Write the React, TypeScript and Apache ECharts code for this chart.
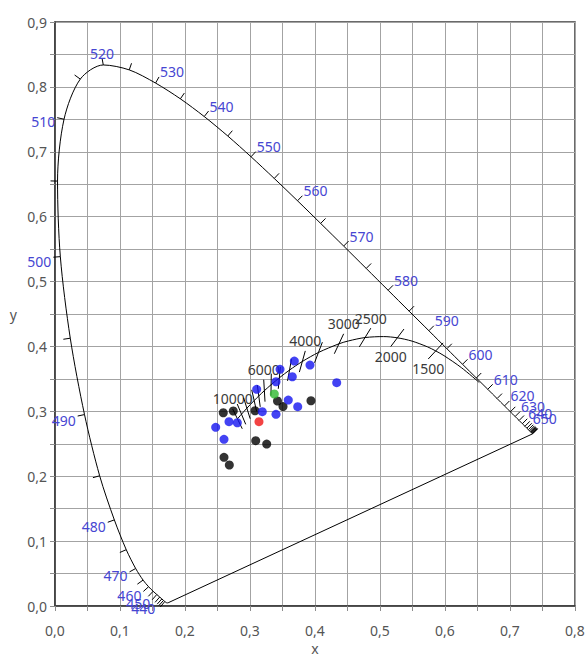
import React, { useEffect, useRef } from "react";
import * as echarts from "echarts";

// CIE 1931 2° spectral locus, 5 nm steps
const wavelengths = [
  380, 385, 390, 395, 400, 405, 410, 415, 420, 425, 430, 435, 440, 445, 450, 455,
  460, 465, 470, 475, 480, 485, 490, 495, 500, 505, 510, 515, 520, 525, 530, 535,
  540, 545, 550, 555, 560, 565, 570, 575, 580, 585, 590, 595, 600, 605, 610, 615,
  620, 625, 630, 635, 640, 645, 650, 655, 660, 665, 670, 675, 680, 685, 690, 695, 700,
];
const locusX = [
  0.1741, 0.174, 0.1738, 0.1736, 0.1733, 0.173, 0.1726, 0.1721, 0.1714, 0.1703, 0.1689,
  0.1669, 0.1644, 0.1611, 0.1566, 0.151, 0.144, 0.1355, 0.1241, 0.1096, 0.0913, 0.0687,
  0.0454, 0.0235, 0.0082, 0.0039, 0.0139, 0.0389, 0.0743, 0.1142, 0.1547, 0.1929, 0.2296,
  0.2658, 0.3016, 0.3373, 0.3731, 0.4087, 0.4441, 0.4788, 0.5125, 0.5448, 0.5752, 0.6029,
  0.627, 0.6482, 0.6658, 0.6801, 0.6915, 0.7006, 0.7079, 0.714, 0.719, 0.723, 0.726,
  0.7283, 0.73, 0.7311, 0.732, 0.7327, 0.7334, 0.734, 0.7344, 0.7346, 0.7347,
];
const locusY = [
  0.005, 0.005, 0.0049, 0.0049, 0.0048, 0.0048, 0.0048, 0.0048, 0.0051, 0.0058, 0.0069,
  0.0086, 0.0109, 0.0138, 0.0177, 0.0227, 0.0297, 0.0399, 0.0578, 0.0868, 0.1327, 0.2007,
  0.295, 0.4127, 0.5384, 0.6548, 0.7502, 0.812, 0.8338, 0.8262, 0.8059, 0.7816, 0.7543,
  0.7243, 0.6923, 0.6589, 0.6245, 0.5896, 0.5547, 0.5202, 0.4866, 0.4544, 0.4242, 0.3965,
  0.3725, 0.3514, 0.334, 0.3197, 0.3083, 0.2993, 0.292, 0.2859, 0.2809, 0.277, 0.274,
  0.2717, 0.27, 0.2689, 0.268, 0.2673, 0.2666, 0.266, 0.2656, 0.2654, 0.2653,
];
const tickFromNm = 430;
const labelFromNm = 440;
const labelToNm = 650;

// Planckian locus
const cctKelvin = [
  10000, 9000, 8000, 7000, 6500, 6000, 5500, 5000, 4500, 4000, 3500, 3000, 2800, 2500,
  2200, 2000, 1800, 1600, 1500, 1400, 1200, 1000,
];
const planckX = [
  0.2807, 0.2869, 0.2952, 0.3064, 0.3135, 0.3221, 0.3325, 0.3451, 0.3608, 0.3805, 0.4053,
  0.4369, 0.4519, 0.477, 0.5056, 0.5267, 0.5493, 0.5732, 0.5857, 0.5985, 0.6251, 0.6528,
];
const planckY = [
  0.2884, 0.2956, 0.3048, 0.3166, 0.3237, 0.3318, 0.3411, 0.3516, 0.3636, 0.3768, 0.3907,
  0.4041, 0.4086, 0.4137, 0.4152, 0.4133, 0.4082, 0.3993, 0.3931, 0.3858, 0.3674, 0.3444,
];
const isothermTicks = [
  10000, 9000, 8000, 7000, 6500, 6000, 5500, 5000, 4500, 4000, 3500, 3000, 2500, 2000, 1500,
];
const isothermLabelsAbove = [10000, 6000, 4000, 3000, 2500];
const isothermLabelsBelow = [2000, 1500];

// measured chromaticities
const blackPoints: [number, number][] = [
  [0.3938, 0.3163], [0.3423, 0.3159], [0.3508, 0.3074], [0.2589, 0.2978], [0.2743, 0.3005],
  [0.3077, 0.3009], [0.3088, 0.2547], [0.3257, 0.2496], [0.26, 0.2291], [0.2682, 0.2173],
];
const bluePoints: [number, number][] = [
  [0.3682, 0.3775], [0.3923, 0.3713], [0.3462, 0.3647], [0.3651, 0.3533], [0.34, 0.3456],
  [0.3103, 0.3339], [0.3589, 0.3174], [0.3734, 0.3071], [0.3189, 0.2994], [0.34, 0.2954],
  [0.2677, 0.284], [0.2805, 0.2824], [0.2472, 0.2753], [0.26, 0.2569], [0.4334, 0.3441],
];
const redPoints: [number, number][] = [[0.3138, 0.284]];
const greenPoints: [number, number][] = [[0.3374, 0.3267]];

const FONT = "Noto Sans";
const AXIS_TEXT = "#555555";
const WAVE_TEXT = "#4646d2";

const xyToUv = (x: number, y: number) => {
  const d = -2 * x + 12 * y + 3;
  return [(4 * x) / d, (6 * y) / d];
};
const uvToXy = (u: number, v: number) => {
  const d = 2 * u - 8 * v + 4;
  return [(3 * u) / d, (2 * v) / d];
};

const tenthLabel = (v: number) => {
  const k = Math.round(v * 100);
  return k % 10 === 0 ? (k / 100).toFixed(1).replace(".", ",") : "";
};

const locusPts = wavelengths.map((_, i) => [locusX[i], locusY[i]]);
const planckPts = cctKelvin.map((_, i) => [planckX[i], planckY[i]]);

function buildOption(): echarts.EChartsCoreOption {
  const axisCommon = {
    type: "value" as const,
    min: 0,
    interval: 0.05,
    nameLocation: "middle" as const,
    nameTextStyle: { color: AXIS_TEXT, fontSize: 14, fontFamily: FONT },
    axisLine: { show: true, onZero: false, lineStyle: { color: "#3a3a3a", width: 1.5 } },
    axisTick: { show: true, length: 5, lineStyle: { color: "#8c8c8c" } },
    splitLine: { show: true, lineStyle: { color: "#a3a3a3", width: 1 } },
  };

  const n = locusPts.length;
  const spectralTicks = wavelengths
    .map((w, i) => [locusX[i], locusY[i], i, w])
    .filter((d) => d[3] >= tickFromNm);

  return {
    animation: false,
    grid: {
      left: 55,
      right: 13,
      top: 22,
      bottom: 48,
      containLabel: false,
      outerBoundsMode: "none",
      show: true,
      borderColor: "#3a3a3a",
      borderWidth: 1.5,
    },
    xAxis: {
      ...axisCommon,
      max: 0.8,
      name: "x",
      nameGap: 33,
      axisLabel: { formatter: tenthLabel, color: AXIS_TEXT, fontSize: 14, fontFamily: FONT, margin: 17 },
    },
    yAxis: {
      ...axisCommon,
      max: 0.9,
      name: "y",
      nameGap: 38,
      nameRotate: 0,
      axisLabel: { formatter: tenthLabel, color: AXIS_TEXT, fontSize: 14, fontFamily: FONT, margin: 8 },
    },
    series: [
      {
        type: "line",
        data: locusPts,
        showSymbol: false,
        smooth: 0.3,
        lineStyle: { color: "#000", width: 1 },
        silent: true,
        z: 2,
      },
      {
        // line of purples
        type: "line",
        data: [locusPts[n - 1], locusPts[0]],
        showSymbol: false,
        lineStyle: { color: "#000", width: 1 },
        silent: true,
        z: 2,
      },
      {
        type: "custom",
        data: spectralTicks,
        encode: { x: 0, y: 1 },
        silent: true,
        z: 3,
        renderItem: (_params: any, api: any) => {
          const i = api.value(2) as number;
          const w = api.value(3) as number;
          const p = api.coord(locusPts[i]);
          const a = api.coord(locusPts[Math.max(i - 1, 0)]);
          const b = api.coord(locusPts[Math.min(i + 1, n - 1)]);
          let tx = b[0] - a[0];
          let ty = b[1] - a[1];
          const L = Math.hypot(tx, ty) || 1;
          tx /= L;
          ty /= L;
          const nx = ty;
          const ny = -tx;
          const TICK = 7;
          const ex = p[0] + nx * TICK;
          const ey = p[1] + ny * TICK;
          const children: any[] = [
            {
              type: "line",
              shape: { x1: p[0], y1: p[1], x2: ex, y2: ey },
              style: { stroke: "#000", lineWidth: 1 },
            },
          ];
          if (w % 10 === 0 && w >= labelFromNm && w <= labelToNm) {
            const align = nx > 0.3 ? "left" : nx < -0.3 ? "right" : "center";
            const vAlign = ny < -0.3 ? "bottom" : "top";
            children.push({
              type: "text",
              x: ex + (align === "left" ? 1 : align === "right" ? -2 : 0),
              y: ey + (vAlign === "bottom" ? 2 : -3),
              style: {
                text: String(w),
                fill: WAVE_TEXT,
                font: `14px "${FONT}"`,
                align,
                verticalAlign: vAlign,
              },
            });
          }
          return { type: "group", children };
        },
      },
      {
        type: "line",
        data: planckPts,
        showSymbol: false,
        smooth: 0.3,
        lineStyle: { color: "#000", width: 1 },
        silent: true,
        z: 2,
      },
      {
        type: "custom",
        data: isothermTicks.map((t) => {
          const k = cctKelvin.indexOf(t);
          return [planckX[k], planckY[k], t];
        }),
        encode: { x: 0, y: 1 },
        silent: true,
        z: 3,
        renderItem: (_params: any, api: any) => {
          const t = api.value(2) as number;
          const k = cctKelvin.indexOf(t);
          const k0 = Math.max(k - 1, 0);
          const k1 = Math.min(k + 1, cctKelvin.length - 1);
          const [u0, v0] = xyToUv(planckX[k0], planckY[k0]);
          const [u1, v1] = xyToUv(planckX[k1], planckY[k1]);
          let du = u1 - u0;
          let dv = v1 - v0;
          const L = Math.hypot(du, dv) || 1;
          du /= L;
          dv /= L;
          const [u, v] = xyToUv(planckX[k], planckY[k]);
          const eps = 0.002;
          const q = uvToXy(u - dv * eps, v + du * eps);
          const p = api.coord([planckX[k], planckY[k]]);
          const qp = api.coord(q);
          let dx = qp[0] - p[0];
          let dy = qp[1] - p[1];
          const M = Math.hypot(dx, dy) || 1;
          dx /= M;
          dy /= M;
          if (dy > 0) {
            dx = -dx;
            dy = -dy;
          }
          const H = 11;
          const top = [p[0] + dx * H, p[1] + dy * H];
          const bot = [p[0] - dx * H, p[1] - dy * H];
          const children: any[] = [
            {
              type: "line",
              shape: { x1: bot[0], y1: bot[1], x2: top[0], y2: top[1] },
              style: { stroke: "#000", lineWidth: 1 },
            },
          ];
          if (isothermLabelsAbove.includes(t)) {
            children.push({
              type: "text",
              x: top[0],
              y: top[1] - 3,
              style: { text: String(t), fill: "#3a3a3a", font: `14px "${FONT}"`, align: "center", verticalAlign: "bottom" },
            });
          } else if (isothermLabelsBelow.includes(t)) {
            children.push({
              type: "text",
              x: bot[0],
              y: bot[1] + 3,
              style: { text: String(t), fill: "#3a3a3a", font: `14px "${FONT}"`, align: "center", verticalAlign: "top" },
            });
          }
          return { type: "group", children };
        },
      },
      {
        type: "scatter",
        data: blackPoints,
        symbolSize: 9,
        itemStyle: { color: "#000" },
        z: 4,
      },
      {
        type: "scatter",
        data: bluePoints,
        symbolSize: 9,
        itemStyle: { color: "#1414f0" },
        z: 5,
      },
      {
        type: "scatter",
        data: redPoints,
        symbolSize: 9,
        itemStyle: { color: "#f01414" },
        z: 6,
      },
      {
        type: "scatter",
        data: greenPoints,
        symbolSize: 9,
        itemStyle: { color: "#2fb82f" },
        z: 6,
      },
    ],
  };
}

export default function App() {
  const ref = useRef<HTMLDivElement>(null);
  useEffect(() => {
    if (!ref.current) return;
    const chart = echarts.init(ref.current, undefined, { renderer: "svg" });
    chart.setOption(buildOption());
    return () => chart.dispose();
  }, []);
  return (
    <div
      ref={ref}
      style={{ position: "fixed", left: 0, top: 0, width: 588, height: 654, background: "#fff" }}
    />
  );
}
